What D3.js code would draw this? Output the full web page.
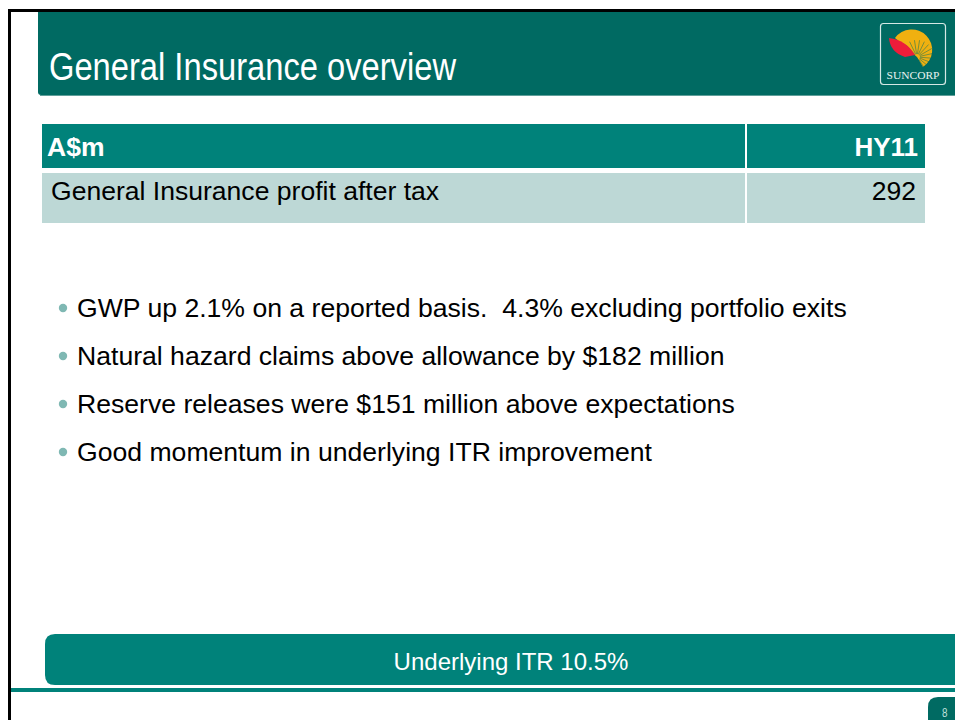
<!DOCTYPE html>
<html>
<head>
<meta charset="utf-8">
<script src="https://cdn.jsdelivr.net/npm/d3@7"></script>
<style>
  html, body { margin: 0; padding: 0; background: #fff; }
  svg { display: block; }
  text { font-family: "Liberation Sans", Arial, sans-serif; }
</style>
</head>
<body>
<div id="slide"></div>
<script>
var slideTitle = "General Insurance overview";
var tableHeader = ["A$m", "HY11"];
var tableRow = ["General Insurance profit after tax", "292"];
var bullets = [
  "GWP up 2.1% on a reported basis.  4.3% excluding portfolio exits",
  "Natural hazard claims above allowance by $182 million",
  "Reserve releases were $151 million above expectations",
  "Good momentum in underlying ITR improvement"
];
var banner = "Underlying ITR 10.5%";
var pageNumber = "8";
var logoText = "SUNCORP";

var width = 955, height = 720;
var svg = d3.select("#slide").append("svg")
  .attr("width", width)
  .attr("height", height);

var dark = "#006a62", teal = "#00827a", pale = "#bdd8d6";

// slide border
svg.append("rect").attr("x", 8).attr("y", 9).attr("width", 947).attr("height", 3).attr("fill", "#000");
svg.append("rect").attr("x", 8).attr("y", 9).attr("width", 3).attr("height", 711).attr("fill", "#000");

// header band
svg.append("path")
  .attr("d", "M38,12H955V95H41Q38,95 38,92Z")
  .attr("fill", dark);
svg.append("rect").attr("x", 40).attr("y", 95).attr("width", 915).attr("height", 1).attr("fill", "#5f9f9a");
// no narrow face installed, so squeeze the title to the reference width
svg.append("text")
  .attr("x", 49).attr("y", 80)
  .attr("font-size", 38)
  .attr("fill", "#fff")
  .attr("textLength", 407)
  .attr("lengthAdjust", "spacingAndGlyphs")
  .text(slideTitle);

// logo
var logo = svg.append("g");
logo.append("rect")
  .attr("x", 880.5).attr("y", 23.5).attr("width", 65).attr("height", 61).attr("rx", 3)
  .attr("fill", "none").attr("stroke", "#d5e8e5").attr("stroke-width", 1.2);
logo.append("path")
  .attr("d", "M917,57L895,38A20.5,20.5 0 1 1 923,67Z")
  .attr("fill", "#f0b010");
var rays = d3.range(-0.75, 2.9, 0.3);
logo.selectAll("line.ray").data(rays).enter().append("line")
  .attr("class", "ray")
  .attr("x1", function(d) { return 917 + 3 * Math.sin(d); })
  .attr("y1", function(d) { return 57 - 3 * Math.cos(d); })
  .attr("x2", function(d) { return 917 + 17 * Math.sin(d); })
  .attr("y2", function(d) { return 57 - 17 * Math.cos(d); })
  .attr("stroke", dark).attr("stroke-width", 0.5);
logo.append("path")
  .attr("d", "M889,38Q906,40 915,55L905,57Q890,52 889,38Z")
  .attr("fill", "#ee1c3a");
logo.append("text")
  .attr("x", 913).attr("y", 79)
  .attr("text-anchor", "middle")
  .attr("font-size", 11)
  .attr("fill", "#e8f2f0")
  .attr("textLength", 53)
  .attr("lengthAdjust", "spacingAndGlyphs")
  .style("font-family", '"Liberation Serif", serif')
  .text(logoText);

// table
var colX = [42, 747], colW = [703, 178];
svg.selectAll("rect.head").data(tableHeader).enter().append("rect")
  .attr("class", "head")
  .attr("x", function(d, i) { return colX[i]; })
  .attr("y", 124)
  .attr("width", function(d, i) { return colW[i]; })
  .attr("height", 44)
  .attr("fill", teal);
svg.selectAll("rect.cell").data(tableRow).enter().append("rect")
  .attr("class", "cell")
  .attr("x", function(d, i) { return colX[i]; })
  .attr("y", 173)
  .attr("width", function(d, i) { return colW[i]; })
  .attr("height", 50)
  .attr("fill", pale);

svg.append("text").attr("x", 47).attr("y", 156)
  .attr("font-size", 26.5).attr("font-weight", "bold").attr("fill", "#fff").text(tableHeader[0]);
svg.append("text").attr("x", 918).attr("y", 156).attr("text-anchor", "end")
  .attr("font-size", 26).attr("font-weight", "bold").attr("fill", "#fff").text(tableHeader[1]);
svg.append("text").attr("x", 51).attr("y", 200)
  .attr("font-size", 26.55).attr("fill", "#000").text(tableRow[0]);
svg.append("text").attr("x", 916).attr("y", 200).attr("text-anchor", "end")
  .attr("font-size", 26.55).attr("fill", "#000").text(tableRow[1]);

// bullet list
var bulletY = d3.scalePoint().domain(d3.range(bullets.length)).range([317, 461]);
var rows = svg.selectAll("g.bullet").data(bullets).enter().append("g")
  .attr("class", "bullet")
  .attr("transform", function(d, i) { return "translate(0," + bulletY(i) + ")"; });
rows.append("circle").attr("cx", 63).attr("cy", -9).attr("r", 4.2).attr("fill", "#7fb8b3");
rows.append("text").attr("x", 77).attr("y", 0)
  .attr("font-size", 26.6).attr("fill", "#000")
  .attr("xml:space", "preserve")
  .style("white-space", "pre")
  .text(function(d) { return d; });

// banner and footer
svg.append("path")
  .attr("d", "M55,634H955V685H55Q45,685 45,675V644Q45,634 55,634Z")
  .attr("fill", teal);
svg.append("text").attr("x", 511).attr("y", 670).attr("text-anchor", "middle")
  .attr("font-size", 24).attr("fill", "#fff").text(banner);
svg.append("rect").attr("x", 11).attr("y", 688).attr("width", 944).attr("height", 4).attr("fill", teal);
svg.append("path")
  .attr("d", "M938,697H955V720H928V707Q928,697 938,697Z")
  .attr("fill", dark);
svg.append("text").attr("x", 942).attr("y", 717)
  .attr("font-size", 12).attr("fill", "#bfe0dc")
  .attr("textLength", 5.5)
  .attr("lengthAdjust", "spacingAndGlyphs")
  .text(pageNumber);
</script>
</body>
</html>
